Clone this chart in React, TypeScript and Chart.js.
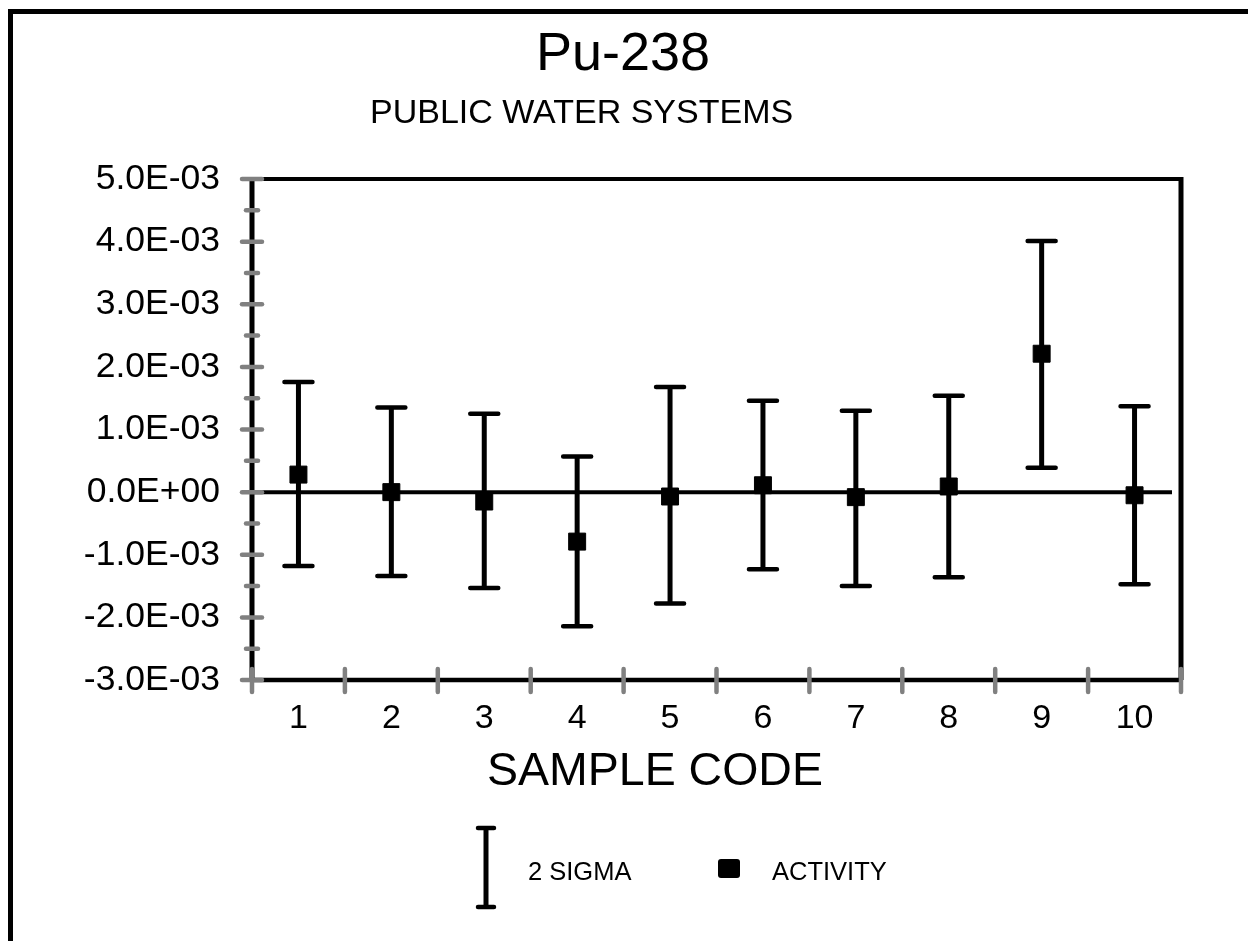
import React, { useEffect, useRef } from "react";
import { Chart, registerables } from "chart.js";

Chart.register(...registerables);

const categories = ["1", "2", "3", "4", "5", "6", "7", "8", "9", "10"];
const activity = [0.00028, 0.0, -0.00015, -0.00079, -0.00007, 0.00011, -0.00008, 0.00009, 0.00221, -0.00005];
const upper = [0.00176, 0.00135, 0.00125, 0.00057, 0.00168, 0.00146, 0.0013, 0.00154, 0.00401, 0.00137];
const lower = [-0.00118, -0.00134, -0.00153, -0.00214, -0.00178, -0.00123, -0.0015, -0.00136, 0.00039, -0.00147];
const yMin = -0.003;
const yMax = 0.005;
const yStep = 0.001;

const titleText = "Pu-238";
const subtitleText = "PUBLIC WATER SYSTEMS";
const xTitleText = "SAMPLE CODE";
const legendSigma = "2 SIGMA";
const legendActivity = "ACTIVITY";

const FONT = '"Liberation Sans", Arial, Helvetica, sans-serif';

function sci(v: number): string {
  if (Math.abs(v) < 1e-12) return "0.0E+00";
  let e = Math.floor(Math.log10(Math.abs(v)));
  let m = v / Math.pow(10, e);
  if (Math.abs(m) >= 9.95) {
    m /= 10;
    e++;
  }
  const s = e < 0 ? "-" : "+";
  return m.toFixed(1) + "E" + s + String(Math.abs(e)).padStart(2, "0");
}

const decorPlugin = {
  id: "decor",
  beforeDatasetsDraw(chart: any) {
    const ctx = chart.ctx as CanvasRenderingContext2D;
    const { left, right, top, bottom } = chart.chartArea;
    const xs = chart.scales.x;
    const ys = chart.scales.y;
    ctx.save();
    // outer frame (top and left visible)
    ctx.fillStyle = "#000";
    ctx.fillRect(8, 9, 1240, 5);
    ctx.fillRect(8, 9, 5, 932);

    // plot frame
    ctx.strokeStyle = "#000";
    ctx.lineCap = "butt";
    ctx.lineWidth = 4;
    ctx.beginPath();
    ctx.moveTo(left, top);
    ctx.lineTo(right, top);
    ctx.stroke();
    ctx.lineWidth = 5;
    ctx.beginPath();
    ctx.moveTo(right, top - 2);
    ctx.lineTo(right, bottom);
    ctx.stroke();
    ctx.beginPath();
    ctx.moveTo(left, top - 2);
    ctx.lineTo(left, bottom);
    ctx.stroke();
    ctx.lineWidth = 4.5;
    ctx.beginPath();
    ctx.moveTo(left, bottom);
    ctx.lineTo(right, bottom);
    ctx.stroke();
    // zero line
    const y0 = ys.getPixelForValue(0);
    ctx.lineWidth = 4;
    ctx.beginPath();
    ctx.moveTo(left, y0);
    ctx.lineTo(right - 9, y0);
    ctx.stroke();

    // ticks (grey, crossing)
    ctx.strokeStyle = "#808080";
    ctx.lineCap = "round";
    ctx.lineWidth = 4.5;
    const n = Math.round((yMax - yMin) / yStep);
    for (let k = 0; k <= n * 2; k++) {
      const v = yMin + (k * yStep) / 2;
      const py = ys.getPixelForValue(v);
      const major = k % 2 === 0;
      const half = major ? 10 : 6;
      ctx.beginPath();
      ctx.moveTo(left - half, py);
      ctx.lineTo(left + half, py);
      ctx.stroke();
    }
    const cw = (right - left) / categories.length;
    for (let k = 0; k <= categories.length; k++) {
      const px = left + k * cw;
      ctx.beginPath();
      ctx.moveTo(px, bottom - 11);
      ctx.lineTo(px, bottom + 12);
      ctx.stroke();
    }

    // error bars
    ctx.strokeStyle = "#000";
    ctx.lineWidth = 5;
    for (let i = 0; i < categories.length; i++) {
      const px = xs.getPixelForValue(i);
      const p1 = ys.getPixelForValue(upper[i]);
      const p2 = ys.getPixelForValue(lower[i]);
      ctx.lineCap = "butt";
      ctx.beginPath();
      ctx.moveTo(px, p1);
      ctx.lineTo(px, p2);
      ctx.stroke();
      ctx.lineCap = "round";
      ctx.lineWidth = 4.5;
      ctx.beginPath();
      ctx.moveTo(px - 14, p1);
      ctx.lineTo(px + 14, p1);
      ctx.moveTo(px - 14, p2);
      ctx.lineTo(px + 14, p2);
      ctx.stroke();
      ctx.lineWidth = 5;
    }
    ctx.restore();
  },
  afterDraw(chart: any) {
    const ctx = chart.ctx as CanvasRenderingContext2D;
    ctx.save();
    ctx.fillStyle = "#000";
    ctx.textBaseline = "alphabetic";
    ctx.textAlign = "center";
    ctx.font = `54px ${FONT}`;
    ctx.fillText(titleText, 623, 70);
    ctx.textAlign = "left";
    ctx.font = `34px ${FONT}`;
    ctx.fillText(subtitleText, 370, 123);
    ctx.font = `46.5px ${FONT}`;
    ctx.fillText(xTitleText, 487, 785);

    // legend
    const lx = 486;
    ctx.strokeStyle = "#000";
    ctx.lineWidth = 5;
    ctx.lineCap = "butt";
    ctx.beginPath();
    ctx.moveTo(lx, 828);
    ctx.lineTo(lx, 908);
    ctx.stroke();
    ctx.lineCap = "round";
    ctx.lineWidth = 4.5;
    ctx.beginPath();
    ctx.moveTo(lx - 8, 828);
    ctx.lineTo(lx + 8, 828);
    ctx.moveTo(lx - 8, 907);
    ctx.lineTo(lx + 8, 907);
    ctx.stroke();
    ctx.font = `25.5px ${FONT}`;
    ctx.fillText(legendSigma, 528, 880);
    ctx.beginPath();
    (ctx as any).roundRect ? (ctx as any).roundRect(718, 859, 22, 19, 3) : ctx.rect(718, 859, 22, 19);
    ctx.fill();
    ctx.fillText(legendActivity, 772, 880);
    ctx.restore();
  },
};

export default function App() {
  const ref = useRef<HTMLCanvasElement | null>(null);
  useEffect(() => {
    if (!ref.current) return;
    const chart = new Chart(ref.current, {
      type: "line",
      data: {
        labels: categories,
        datasets: [
          {
            label: legendActivity,
            data: activity,
            showLine: false,
            pointStyle: "rect",
            pointRadius: 12,
            pointHoverRadius: 12,
            pointBackgroundColor: "#000",
            pointBorderColor: "#000",
            pointBorderWidth: 1,
          },
        ],
      },
      options: {
        responsive: false,
        animation: false,
        devicePixelRatio: 1,
        layout: { padding: { left: 0, top: 179, right: 67, bottom: 201 } },
        plugins: {
          legend: { display: false },
          title: { display: false },
          tooltip: { enabled: false },
        },
        events: [],
        scales: {
          x: {
            type: "category",
            offset: true,
            grid: { display: false, drawTicks: false },
            border: { display: false },
            ticks: {
              color: "#000",
              padding: 18,
              font: { family: FONT, size: 34 },
              maxRotation: 0,
              autoSkip: false,
            },
            afterFit: (s: any) => {
              s.height = 60;
            },
          },
          y: {
            type: "linear",
            min: yMin,
            max: yMax,
            grid: { display: false, drawTicks: false },
            border: { display: false },
            ticks: {
              stepSize: yStep,
              color: "#000",
              padding: 32,
              font: { family: FONT, size: 35.5 },
              callback: (v: any) => sci(Number(v)),
            },
            afterFit: (s: any) => {
              s.width = 252;
            },
          },
        },
      },
      plugins: [decorPlugin],
    });
    return () => chart.destroy();
  }, []);
  return (
    <div style={{ position: "fixed", left: 0, top: 0, width: 1248, height: 941, background: "#fff" }}>
      <canvas ref={ref} width={1248} height={941} style={{ display: "block", width: 1248, height: 941 }} />
    </div>
  );
}
